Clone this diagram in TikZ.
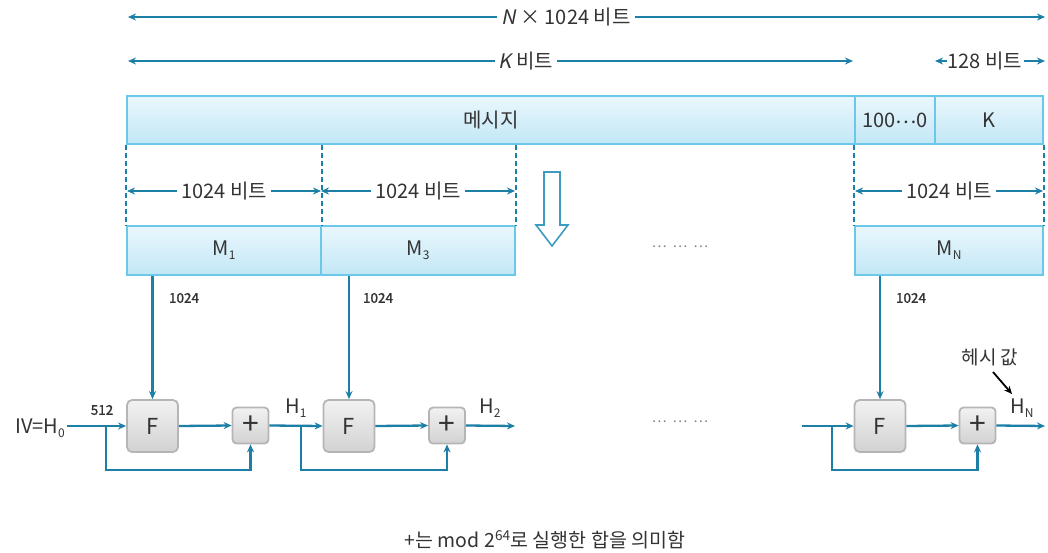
\documentclass[tikz,border=0pt]{standalone}
\usepackage{fontspec}
\setmainfont{Noto Sans CJK KR}
\newfontfamily\slfont[FakeSlant=0.2]{Noto Sans CJK KR}
\newfontfamily\bdfont[FakeBold=1.2]{Noto Sans CJK KR}
\usetikzlibrary{arrows.meta}
\definecolor{arr}{HTML}{1D7EA6}
\definecolor{bord}{HTML}{6CC8E8}
\definecolor{ftop}{HTML}{EAF7FD}
\definecolor{fbot}{HTML}{C2E7F6}
\definecolor{txt}{HTML}{333333}
\definecolor{gbord}{HTML}{B5B5B5}
\definecolor{gtop}{HTML}{F2F2F2}
\definecolor{gbot}{HTML}{D2D2D2}
\newcommand\sbs[1]{\raisebox{-0.35ex}{\fontsize{12}{12}\selectfont #1}}
\newcommand\mdots{\raisebox{0.3ex}{…}}
\begin{document}
\begin{tikzpicture}[x=1pt,y=-1pt,text=txt,
  big/.style={font=\fontsize{20}{24}\selectfont},
  small/.style={font=\bdfont\fontsize{13.5}{16}\selectfont},
  bar/.style={draw=bord,line width=1.8pt,top color=ftop,bottom color=fbot,inner sep=0pt,big},
  ar/.style={draw=arr,line width=2.3pt,-{Stealth[length=8pt,width=7pt]}},
  dline/.style={draw=arr,line width=1.8pt,dash pattern=on 5pt off 3pt},
  fbox/.style={draw=gbord,line width=1.8pt,rounded corners=5pt,top color=gtop,bottom color=gbot,minimum width=51pt,minimum height=52pt,inner sep=0pt,font=\fontsize{22}{24}\selectfont},
  pbox/.style={draw=gbord,line width=1.8pt,rounded corners=4pt,top color=gtop,bottom color=gbot,minimum width=36pt,minimum height=36pt,inner sep=0pt,font=\fontsize{30}{30}\selectfont},
  lbl/.style={big,inner sep=4pt}]
\useasboundingbox (0,0) rectangle (1048,553);

% top dimension arrows
\node[lbl] (ntxt) at (566,17) {{\slfont N} × 1024 비트};
\coordinate (nl) at (128,17); \coordinate (nr) at (1045,17);
\draw[ar] (ntxt.west) -- (nl);
\draw[ar] (ntxt.east) -- (nr);
\node[lbl] (ktxt) at (526,61) {{\slfont K} 비트};
\coordinate (kl) at (128,61); \coordinate (kr) at (853,61);
\draw[ar] (ktxt.west) -- (kl);
\draw[ar] (ktxt.east) -- (kr);
\node[lbl,inner sep=1pt] (t128) at (985,61) {128 비트};
\coordinate (cl) at (935,61); \coordinate (cr) at (1045,61);
\draw[ar] (t128.west) -- (cl);
\draw[ar] (t128.east) -- (cr);

% message bar
\node[bar,minimum width=728pt,minimum height=48pt] (msg) at (491,120) {메시지};
\node[bar,minimum width=80pt,minimum height=48pt] (pad) at (895,120) {100\mdots0};
\node[bar,minimum width=108pt,minimum height=48pt] (kk) at (989,120) {K};

% M blocks
\node[bar,minimum width=194pt,minimum height=49pt] (m1) at (224,250.5) {M\sbs{1}};
\node[bar,minimum width=194pt,minimum height=49pt] (m3) at (418,250.5) {M\sbs{3}};
\node[bar,minimum width=188pt,minimum height=49pt] (mn) at (949,250.5) {M\sbs{N}};

% dashed lines
\draw[dline] (msg.south west) -- (m1.north west);
\draw[dline] (m1.north east |- msg.south) -- (m1.north east);
\draw[dline] (m3.north east |- msg.south) -- (m3.north east);
\draw[dline] (mn.north west |- msg.south) -- (mn.north west);
\draw[dline] (kk.south east) -- (mn.north east);

% 1024 bit arrows
\node[lbl] (b1) at (224,191) {1024 비트};
\coordinate (b1l) at (127,191); \coordinate (b1r) at (321,191);
\draw[ar] (b1.west) -- (b1l); \draw[ar] (b1.east) -- (b1r);
\node[lbl] (b2) at (418,191) {1024 비트};
\coordinate (b2l) at (321,191); \coordinate (b2r) at (515,191);
\draw[ar] (b2.west) -- (b2l); \draw[ar] (b2.east) -- (b2r);
\node[lbl] (b3) at (949,191) {1024 비트};
\coordinate (b3l) at (855,191); \coordinate (b3r) at (1043,191);
\draw[ar] (b3.west) -- (b3l); \draw[ar] (b3.east) -- (b3r);

% hollow arrow
\draw[draw=arr!60!bord,line width=1.6pt,fill=white,line join=miter]
  (544,172) -- (560,172) -- (560,225) -- (568,225) -- (552,246) -- (536,225) -- (544,225) -- cycle;

% dots
\node[text=gray,font=\fontsize{14}{14}\selectfont] (dots1) at (680,248) {\mdots\hspace{6pt}\mdots\hspace{6pt}\mdots};
\node[text=gray,font=\fontsize{14}{14}\selectfont] (dots2) at (680,423) {\mdots\hspace{6pt}\mdots\hspace{6pt}\mdots};

% compression chain
\node[fbox] (f1) at (152.5,426) {F};
\node[pbox] (p1) at (250.5,425.5) {+};
\node[fbox] (f2) at (349,426) {F};
\node[pbox] (p2) at (447,425.5) {+};
\node[fbox] (f3) at (880,426) {F};
\node[pbox] (p3) at (977.5,425.5) {+};

\node[big,inner sep=2pt] (iv) at (40,428) {IV=H\sbs{0}};
\coordinate (br1) at (106,426);
\coordinate (br2) at (301,426);
\coordinate (s3) at (802,426);
\coordinate (br3) at (832,426);
\coordinate (o2) at (515,426);
\coordinate (on) at (1045,426);

\draw[ar] (iv.east |- f1.west) -- (f1.west);
\draw[ar] (br1) |- (250.5,470) -- (p1.south);
\draw[ar] (f1.east) -- (p1.west);
\draw[ar] (p1.east) -- (f2.west);
\draw[ar] (br2) |- (447,470) -- (p2.south);
\draw[ar] (f2.east) -- (p2.west);
\draw[ar] (p2.east) -- (o2);
\draw[ar] (s3) -- (f3.west);
\draw[ar] (br3) |- (977.5,470) -- (p3.south);
\draw[ar] (f3.east) -- (p3.west);
\draw[ar] (p3.east) -- (on);

\draw[ar] (f1.north |- m1.south) -- (f1.north);
\draw[ar] (f2.north |- m3.south) -- (f2.north);
\draw[ar] (f3.north |- mn.south) -- (f3.north);

\node[small] (l1) at (184,298) {1024};
\node[small] (l2) at (378,298) {1024};
\node[small] (l3) at (911,298) {1024};
\node[small] (l512) at (102,410) {512};

\node[big] (h1) at (296,408) {H\sbs{1}};
\node[big] (h2) at (490,408) {H\sbs{2}};
\node[big] (hn) at (1022,408) {H\sbs{N}};
\node[font=\fontsize{19}{22}\selectfont] (hv) at (990,357) {헤시 값};
\coordinate (hva) at (1012,394);
\draw[black,line width=1.8pt,-{Stealth[length=8pt,width=7pt]}] (993,372) -- (hva);

\node[font=\fontsize{19.5}{22}\selectfont] (note) at (545,540) {+는 mod 2\textsuperscript{64}로 실행한 합을 의미함};
\end{tikzpicture}
\end{document}
